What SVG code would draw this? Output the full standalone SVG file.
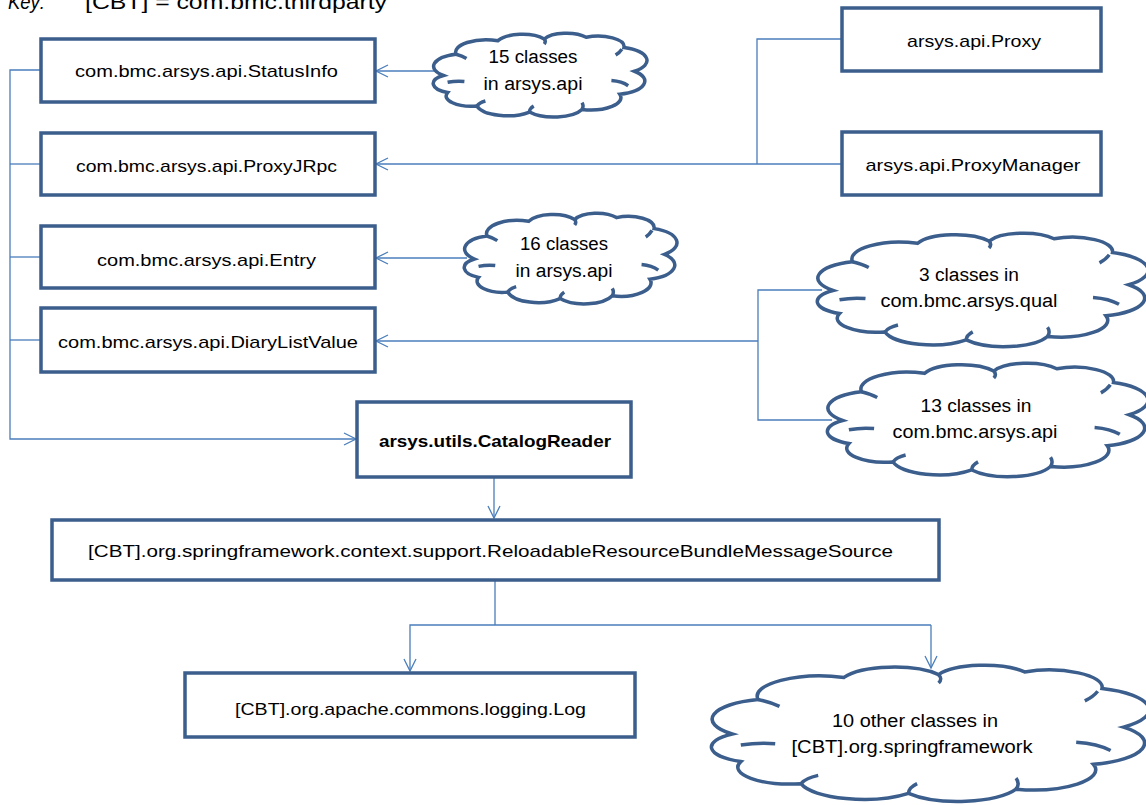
<svg xmlns="http://www.w3.org/2000/svg" width="1146" height="805" viewBox="0 0 1146 805">
<defs>
<marker id="arr" markerUnits="userSpaceOnUse" markerWidth="14" markerHeight="14" refX="12" refY="6" orient="auto" overflow="visible">
<path d="M0,0 L12,6 L0,12" fill="none" stroke="#4A7EBB" stroke-width="1.3"/>
</marker>
<path id="cloudShape" vector-effect="non-scaling-stroke" fill="#fff" stroke="#3B5E8C" stroke-width="3.5" d="M4,50 A14.8,14.8 0 0 1 10,25 A14.7,14.7 0 0 1 30,9 A12.7,12.7 0 0 1 52,7 A11.6,11.6 0 0 1 72,5 A12.4,12.4 0 0 1 90,17 A16.3,16.3 0 0 1 95,45 A16,16 0 0 1 88,72 A14.6,14.6 0 0 1 70,90 A14.5,14.5 0 0 1 45,93 A14.9,14.9 0 0 1 20,86 A12.2,12.2 0 0 1 6,70 A11.6,11.6 0 0 1 4,50 Z"/>
<path id="cloudInner" vector-effect="non-scaling-stroke" fill="none" stroke="#3B5E8C" stroke-width="3.5" d="M6,58 Q10,56 14,57 M20,86 Q21,82 24,80 M45,93 Q45,89 47,86 M70,90 Q71,86 70,82 M84,56 Q89,57 92,62 M89,19 Q88,23 86,26 M52,7 Q53,10 52,13 M10,25 Q13,27 15,30"/>
</defs>
<style>
.box{fill:#fff;stroke:#3B5E8C;stroke-width:3.5}
.t{font-family:"Liberation Sans",Arial,sans-serif;font-size:17px;fill:#000;text-anchor:middle}
.tc{font-family:"Liberation Sans",Arial,sans-serif;font-size:18px;fill:#000;text-anchor:middle}
.con path{fill:none;stroke:#4A7EBB;stroke-width:1.3}
</style>
<rect width="1146" height="805" fill="#fff"/>
<g id="key">
<text x="8" y="9" font-family="Liberation Sans,Arial,sans-serif" font-size="21" font-style="italic" textLength="37" lengthAdjust="spacingAndGlyphs">Key:</text>
<text x="85" y="9" font-family="Liberation Sans,Arial,sans-serif" font-size="21" textLength="302" lengthAdjust="spacingAndGlyphs">[CBT] = com.bmc.thirdparty</text>
</g>
<g id="connectors" class="con">
<path d="M41,70 H10 V439 H356" marker-end="url(#arr)"/>
<path d="M41,164 H10"/>
<path d="M41,257 H10"/>
<path d="M41,340 H10"/>
<path d="M435,71 H376" marker-end="url(#arr)"/>
<path d="M842,39 H757 V164"/>
<path d="M842,164 H376" marker-end="url(#arr)"/>
<path d="M467,258 H376" marker-end="url(#arr)"/>
<path d="M822,290 H758 V420 H832"/>
<path d="M758,341 H376" marker-end="url(#arr)"/>
<path d="M494,477 V518" marker-end="url(#arr)"/>
<path d="M495,581 V625"/>
<path d="M931,625 H410 V671" marker-end="url(#arr)"/>
<path d="M931,625 V668" marker-end="url(#arr)"/>
</g>
<g id="statusinfo"><rect class="box" x="41" y="39" width="334" height="63"/><text class="t" x="206.5" y="77" textLength="263" lengthAdjust="spacingAndGlyphs">com.bmc.arsys.api.StatusInfo</text></g>
<g id="proxyjrpc"><rect class="box" x="41" y="133" width="334" height="62"/><text class="t" x="206.5" y="172" textLength="261" lengthAdjust="spacingAndGlyphs">com.bmc.arsys.api.ProxyJRpc</text></g>
<g id="entry"><rect class="box" x="41" y="226" width="334" height="62"/><text class="t" x="206.5" y="266" textLength="219" lengthAdjust="spacingAndGlyphs">com.bmc.arsys.api.Entry</text></g>
<g id="diarylistvalue"><rect class="box" x="41" y="308" width="334" height="64"/><text class="t" x="208" y="348" textLength="300" lengthAdjust="spacingAndGlyphs">com.bmc.arsys.api.DiaryListValue</text></g>
<g id="proxy"><rect class="box" x="842" y="8" width="259" height="63"/><text class="t" x="974" y="47" textLength="134" lengthAdjust="spacingAndGlyphs">arsys.api.Proxy</text></g>
<g id="proxymanager"><rect class="box" x="842" y="132" width="259" height="63"/><text class="t" x="973" y="171" textLength="215" lengthAdjust="spacingAndGlyphs">arsys.api.ProxyManager</text></g>
<g id="catalogreader"><rect class="box" x="357" y="402" width="274" height="75" stroke-width="5"/><text class="t" x="495" y="447" font-weight="bold" textLength="232" lengthAdjust="spacingAndGlyphs">arsys.utils.CatalogReader</text></g>
<g id="reloadable"><rect class="box" x="52" y="520" width="887" height="60" stroke-width="4"/><text class="t" x="490.5" y="557" font-size="18" textLength="805" lengthAdjust="spacingAndGlyphs">[CBT].org.springframework.context.support.ReloadableResourceBundleMessageSource</text></g>
<g id="log"><rect class="box" x="185" y="673" width="450" height="64"/><text class="t" x="410.5" y="715" textLength="351" lengthAdjust="spacingAndGlyphs">[CBT].org.apache.commons.logging.Log</text></g>
<g id="cloud15">
<g transform="translate(435,33) scale(2.1,0.85)"><use href="#cloudShape"/><use href="#cloudInner"/></g>
<text class="tc" x="533" y="63" textLength="89" lengthAdjust="spacingAndGlyphs">15 classes</text>
<text class="tc" x="533" y="90" textLength="99" lengthAdjust="spacingAndGlyphs">in arsys.api</text>
</g>
<g id="cloud16">
<g transform="translate(466,213) scale(2.09,0.92)"><use href="#cloudShape"/><use href="#cloudInner"/></g>
<text class="tc" x="564" y="250" textLength="88" lengthAdjust="spacingAndGlyphs">16 classes</text>
<text class="tc" x="564" y="277" textLength="97" lengthAdjust="spacingAndGlyphs">in arsys.api</text>
</g>
<g id="cloudqual">
<g transform="translate(820,233) scale(3.25,1.15)"><use href="#cloudShape"/><use href="#cloudInner"/></g>
<text class="tc" x="969" y="281" textLength="100" lengthAdjust="spacingAndGlyphs">3 classes in</text>
<text class="tc" x="969" y="307" textLength="177" lengthAdjust="spacingAndGlyphs">com.bmc.arsys.qual</text>
</g>
<g id="cloud13">
<g transform="translate(830,363) scale(3.15,1.15)"><use href="#cloudShape"/><use href="#cloudInner"/></g>
<text class="tc" x="976" y="412" textLength="111" lengthAdjust="spacingAndGlyphs">13 classes in</text>
<text class="tc" x="975" y="438" textLength="165" lengthAdjust="spacingAndGlyphs">com.bmc.arsys.api</text>
</g>
<g id="cloud10">
<g transform="translate(715,665) scale(4.3,1.38)"><use href="#cloudShape"/><use href="#cloudInner"/></g>
<text class="tc" x="915" y="727" textLength="166" lengthAdjust="spacingAndGlyphs">10 other classes in</text>
<text class="tc" x="912" y="753" textLength="241" lengthAdjust="spacingAndGlyphs">[CBT].org.springframework</text>
</g>
</svg>
